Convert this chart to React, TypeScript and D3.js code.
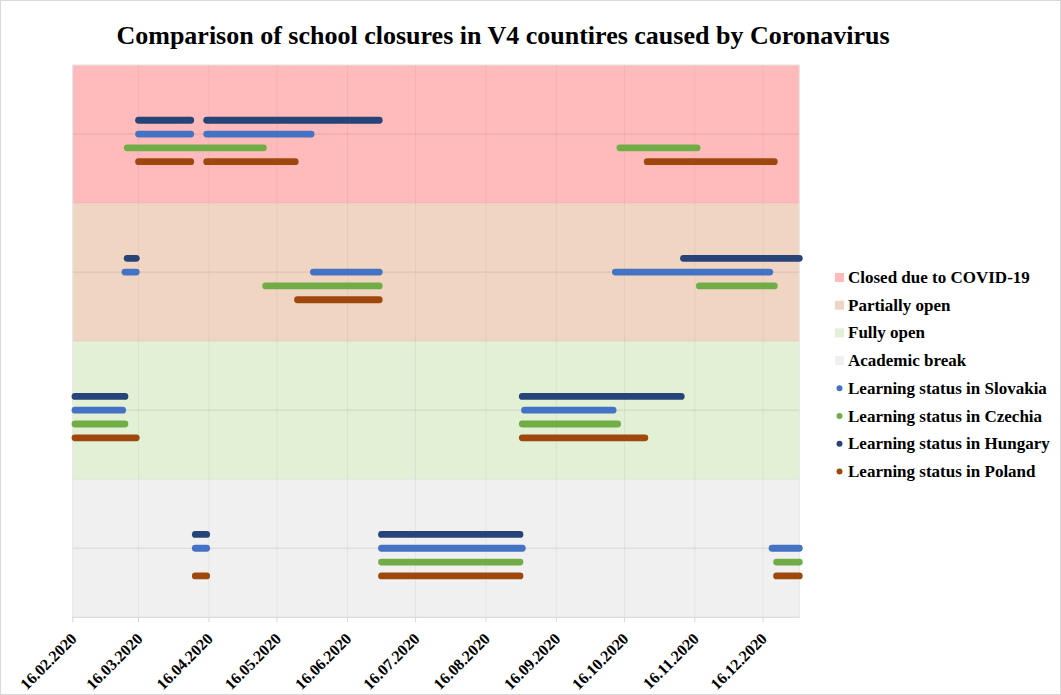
import React from "react";
import * as d3 from "d3";

const title = "Comparison of school closures in V4 countires caused by Coronavirus";

const statusKeys = ["closed", "partial", "open", "break"];
const statusNames = ["Closed due to COVID-19", "Partially open", "Fully open", "Academic break"];
const bandColors = ["#FFBBBB", "#F1D5C3", "#E2F0D5", "#F0F0F0"];

const countries = ["Slovakia", "Czechia", "Hungary", "Poland"];
const countryColors = ["#4472C4", "#70AD47", "#264478", "#9E480E"];

const tickDates = [
  "2020-02-16", "2020-03-16", "2020-04-16", "2020-05-16", "2020-06-16", "2020-07-16",
  "2020-08-16", "2020-09-16", "2020-10-16", "2020-11-16", "2020-12-16",
];
const domainDates = ["2020-02-16", "2021-01-01"];

// [status, start, end]
const slovakia: [string, string, string][] = [
  ["open", "2020-02-17", "2020-03-09"],
  ["partial", "2020-03-10", "2020-03-15"],
  ["closed", "2020-03-16", "2020-04-08"],
  ["break", "2020-04-10", "2020-04-15"],
  ["closed", "2020-04-15", "2020-05-31"],
  ["partial", "2020-06-01", "2020-06-30"],
  ["break", "2020-07-01", "2020-09-01"],
  ["open", "2020-09-02", "2020-10-11"],
  ["partial", "2020-10-12", "2020-12-19"],
  ["break", "2020-12-20", "2021-01-01"],
];
const czechia: [string, string, string][] = [
  ["open", "2020-02-17", "2020-03-10"],
  ["closed", "2020-03-11", "2020-05-10"],
  ["partial", "2020-05-11", "2020-06-30"],
  ["break", "2020-07-01", "2020-08-31"],
  ["open", "2020-09-01", "2020-10-13"],
  ["closed", "2020-10-14", "2020-11-17"],
  ["partial", "2020-11-18", "2020-12-21"],
  ["break", "2020-12-22", "2021-01-01"],
];
const hungary: [string, string, string][] = [
  ["open", "2020-02-17", "2020-03-10"],
  ["partial", "2020-03-11", "2020-03-15"],
  ["closed", "2020-03-16", "2020-04-08"],
  ["break", "2020-04-10", "2020-04-15"],
  ["closed", "2020-04-15", "2020-06-30"],
  ["break", "2020-07-01", "2020-08-31"],
  ["open", "2020-09-01", "2020-11-10"],
  ["partial", "2020-11-11", "2021-01-01"],
];
const poland: [string, string, string][] = [
  ["open", "2020-02-17", "2020-03-15"],
  ["closed", "2020-03-16", "2020-04-08"],
  ["break", "2020-04-10", "2020-04-15"],
  ["closed", "2020-04-15", "2020-05-24"],
  ["partial", "2020-05-25", "2020-06-30"],
  ["break", "2020-07-01", "2020-08-31"],
  ["open", "2020-09-01", "2020-10-25"],
  ["closed", "2020-10-26", "2020-12-21"],
  ["break", "2020-12-22", "2021-01-01"],
];
const countrySegments = [slovakia, czechia, hungary, poland];

// layout
const W = 1061;
const H = 695;
const plot = { left: 72.7, right: 799.3, top: 65, bottom: 617.3 };
const countryOffset = [0, -0.1, 0.1, -0.2];
const serif = "'Liberation Serif', 'Times New Roman', serif";

export default function App() {
  const parse = d3.timeParse("%Y-%m-%d");
  const fmt = d3.timeFormat("%d.%m.%Y");
  const x = d3
    .scaleTime()
    .domain(domainDates.map((d) => parse(d) as Date))
    .range([plot.left, plot.right]);
  const y = d3.scaleLinear().domain([0, 4]).range([plot.bottom, plot.top]);
  const ticks = tickDates.map((d) => parse(d) as Date);

  const bandY = (i: number) => 3.5 - i; // status index -> band center value
  const hLines = [0.5, 1, 1.5, 2, 2.5, 3, 3.5];

  const legendRows = [
    ...statusNames.map((n, i) => ({ label: n, color: bandColors[i], kind: "sq" })),
    ...countries.map((c, i) => ({ label: "Learning status in " + c, color: countryColors[i], kind: "dot" })),
  ];

  return (
    <svg
      width={W}
      height={H}
      style={{ position: "absolute", left: 0, top: 0, display: "block", background: "#fff" }}
    >
      <rect x={0.5} y={0.5} width={W - 1} height={H - 1} fill="#fff" stroke="#D9D9D9" />
      <text
        x={503}
        y={43.5}
        textAnchor="middle"
        fontFamily={serif}
        fontWeight="bold"
        fontSize={26}
        fill="#000"
      >
        {title}
      </text>

      {/* bands */}
      {statusKeys.map((k, i) => (
        <rect
          key={k}
          x={plot.left}
          width={plot.right - plot.left}
          y={y(4 - i)}
          height={y(3 - i) - y(4 - i)}
          fill={bandColors[i]}
        />
      ))}

      {/* gridlines */}
      {ticks.slice(1).map((t, i) => (
        <line
          key={"v" + i}
          x1={x(t)}
          x2={x(t)}
          y1={plot.top}
          y2={plot.bottom}
          stroke="#000"
          strokeOpacity={0.05}
        />
      ))}
      {hLines.map((v) => (
        <line
          key={"h" + v}
          x1={plot.left}
          x2={plot.right}
          y1={y(v)}
          y2={y(v)}
          stroke="#000"
          strokeOpacity={v % 1 === 0 ? 0.06 : 0.1}
        />
      ))}
      <rect
        x={plot.left}
        y={plot.top}
        width={plot.right - plot.left}
        height={plot.bottom - plot.top}
        fill="none"
        stroke="#E4E4E4"
      />

      {/* axis */}
      <line x1={plot.left - 0.5} x2={plot.right} y1={plot.bottom} y2={plot.bottom} stroke="#D9D9D9" />
      {ticks.map((t, i) => (
        <line key={"t" + i} x1={x(t)} x2={x(t)} y1={plot.bottom} y2={plot.bottom + 5} stroke="#D9D9D9" />
      ))}
      {ticks.map((t, i) => (
        <text
          key={"l" + i}
          transform={`translate(${x(t) + 5},${plot.bottom + 22.5}) rotate(-45)`}
          textAnchor="end"
          fontFamily={serif}
          fontWeight="bold"
          fontSize={16}
          fill="#000"
        >
          {fmt(t)}
        </text>
      ))}

      {/* segments */}
      {countrySegments.map((segs, ci) =>
        segs.map(([status, s, e], si) => {
          const bi = statusKeys.indexOf(status);
          const yy = y(bandY(bi) + countryOffset[ci]);
          return (
            <line
              key={ci + "-" + si}
              x1={x(parse(s) as Date)}
              x2={x(parse(e) as Date)}
              y1={yy}
              y2={yy}
              stroke={countryColors[ci]}
              strokeWidth={6.8}
              strokeLinecap="round"
            />
          );
        })
      )}

      {/* legend */}
      {legendRows.map((r, i) => {
        const cy = 277.5 + i * 27.7;
        return (
          <g key={"lg" + i}>
            {r.kind === "sq" ? (
              <rect x={835} y={cy - 4.5} width={9} height={9} fill={r.color} />
            ) : (
              <circle cx={839.5} cy={cy} r={3} fill={r.color} />
            )}
            <text
              x={848}
              y={cy + 5.5}
              fontFamily={serif}
              fontWeight="bold"
              fontSize={17}
              fill="#000"
            >
              {r.label}
            </text>
          </g>
        );
      })}
    </svg>
  );
}
